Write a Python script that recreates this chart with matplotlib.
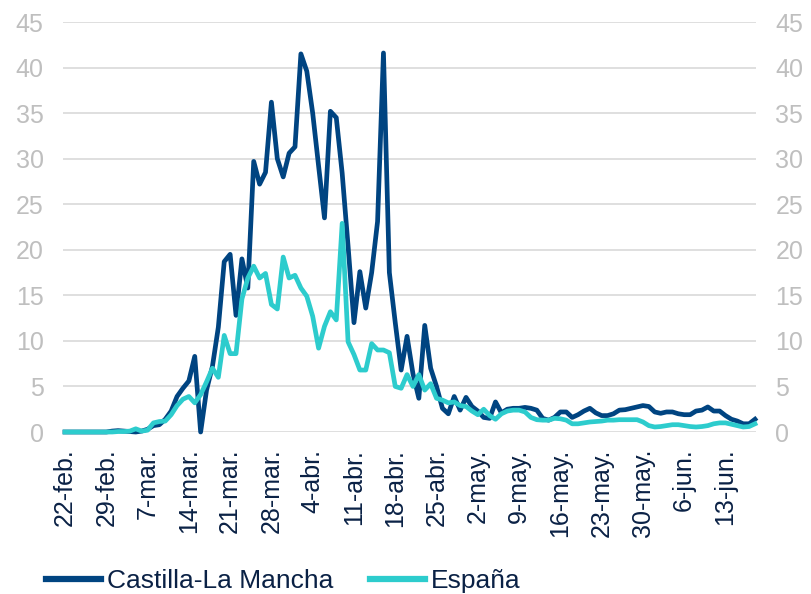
import numpy as np
import matplotlib
matplotlib.use('Agg')
import matplotlib.pyplot as plt

# daily values from 22-feb to 18-jun
castilla = [0, 0, 0, 0, 0, 0, 0, 0, 0.1, 0.15,
            0.1, 0.05, 0, 0.1, 0.3, 0.7, 0.8, 1.4, 2.3, 3.9,
            4.8, 5.6, 8.3, 0, 4.6, 7.2, 11.5, 18.7, 19.5, 12.8,
            19.0, 15.8, 29.7, 27.2, 28.5, 36.2, 30.0, 28.0, 30.6, 31.3,
            41.5, 39.6, 35.0, 29.2, 23.5, 35.2, 34.5, 28.4, 20.4, 12.0,
            17.6, 13.6, 17.5, 23.1, 41.6, 17.5, 12.0, 6.8, 10.5, 6.4,
            3.7, 11.7, 7.0, 5.0, 2.6, 2.0, 3.9, 2.4, 3.8, 2.8,
            2.3, 1.6, 1.5, 3.3, 2.1, 2.5, 2.6, 2.6, 2.7, 2.6,
            2.4, 1.5, 1.3, 1.6, 2.2, 2.2, 1.6, 1.9, 2.3, 2.6,
            2.1, 1.8, 1.8, 2.0, 2.4, 2.45, 2.6, 2.75, 2.9, 2.8,
            2.2, 2.05, 2.2, 2.2, 2.0, 1.9, 1.9, 2.3, 2.4, 2.75,
            2.3, 2.3, 1.8, 1.4, 1.2, 0.9, 0.9, 1.4]

espana = [0, 0, 0, 0, 0, 0, 0, 0, 0, 0.05,
          0.05, 0.1, 0.35, 0.1, 0.2, 1.0, 1.15, 1.2, 1.9, 2.9,
          3.6, 3.9, 3.2, 4.1, 5.5, 7.0, 6.0, 10.6, 8.6, 8.6,
          14.6, 16.9, 18.2, 16.9, 17.4, 14.0, 13.5, 19.2, 16.9, 17.2,
          15.8, 14.9, 12.7, 9.2, 11.6, 13.2, 12.3, 22.9, 9.9, 8.5,
          6.8, 6.8, 9.7, 9.0, 9.0, 8.7, 5.0, 4.8, 6.3, 5.0,
          6.3, 4.6, 5.3, 3.7, 3.5, 3.2, 3.3, 2.9, 2.8, 2.3,
          1.9, 2.5, 1.8, 1.4, 2.0, 2.3, 2.4, 2.4, 2.2, 1.6,
          1.35, 1.3, 1.3, 1.5, 1.45, 1.3, 0.9, 0.9, 1.0, 1.1,
          1.15, 1.2, 1.3, 1.3, 1.35, 1.35, 1.35, 1.35, 1.1, 0.7,
          0.55, 0.6, 0.7, 0.8, 0.8, 0.7, 0.6, 0.55, 0.6, 0.7,
          0.9, 1.0, 1.0, 0.85, 0.7, 0.55, 0.6, 0.9]

tick_labels = ['22-feb.', '29-feb.', '7-mar.', '14-mar.', '21-mar.', '28-mar.',
               '4-abr.', '11-abr.', '18-abr.', '25-abr.', '2-may.', '9-may.',
               '16-may.', '23-may.', '30-may.', '6-jun.', '13-jun.']

navy = '#004481'
aqua = '#2dcccd'
text_col = '#0a2145'
grey = '#bfbfbf'

plt.rcParams['font.family'] = ['Liberation Sans', 'DejaVu Sans']

fig = plt.figure(figsize=(8.11, 5.94), dpi=100)
ax = fig.add_axes([63 / 811, 162 / 594, 693 / 811, 410 / 594])

days = np.arange(len(castilla))
ax.plot(days, castilla, color=navy, lw=3.4, label='Castilla-La Mancha',
        clip_on=False, solid_joinstyle='round', zorder=3)
ax.plot(days, espana, color=aqua, lw=3.4, label='España',
        clip_on=False, solid_joinstyle='round', zorder=4)

ax.set_xlim(-2 / 5.9, 117 + 1 / 5.9)
ax.set_ylim(0, 45)
ax.set_yticks(np.arange(0, 50, 5))
ax.set_xticks(days[::7][:len(tick_labels)])
ax.set_xticklabels(tick_labels, rotation=90, color=text_col, fontsize=18)

ax.grid(axis='y', color='#d9d9d9', lw=1.2)
ax.set_axisbelow(True)
for s in ax.spines.values():
    s.set_visible(False)

ax.tick_params(axis='x', length=0, pad=12)
ax.tick_params(axis='y', length=0, labelsize=18, labelcolor=grey,
               left=True, right=True, labelleft=True, labelright=True, pad=14)

leg = fig.legend(loc='center left', bbox_to_anchor=(46 / 811, 1 - 581 / 594),
                 ncol=2, frameon=False, fontsize=19, handlelength=2.1,
                 handletextpad=0.2, columnspacing=1.4, borderpad=0,
                 borderaxespad=0)
for t in leg.get_texts():
    t.set_color(text_col)
for h in leg.get_lines():
    h.set_linewidth(4.5)

fig.savefig('out.png', dpi=100)
